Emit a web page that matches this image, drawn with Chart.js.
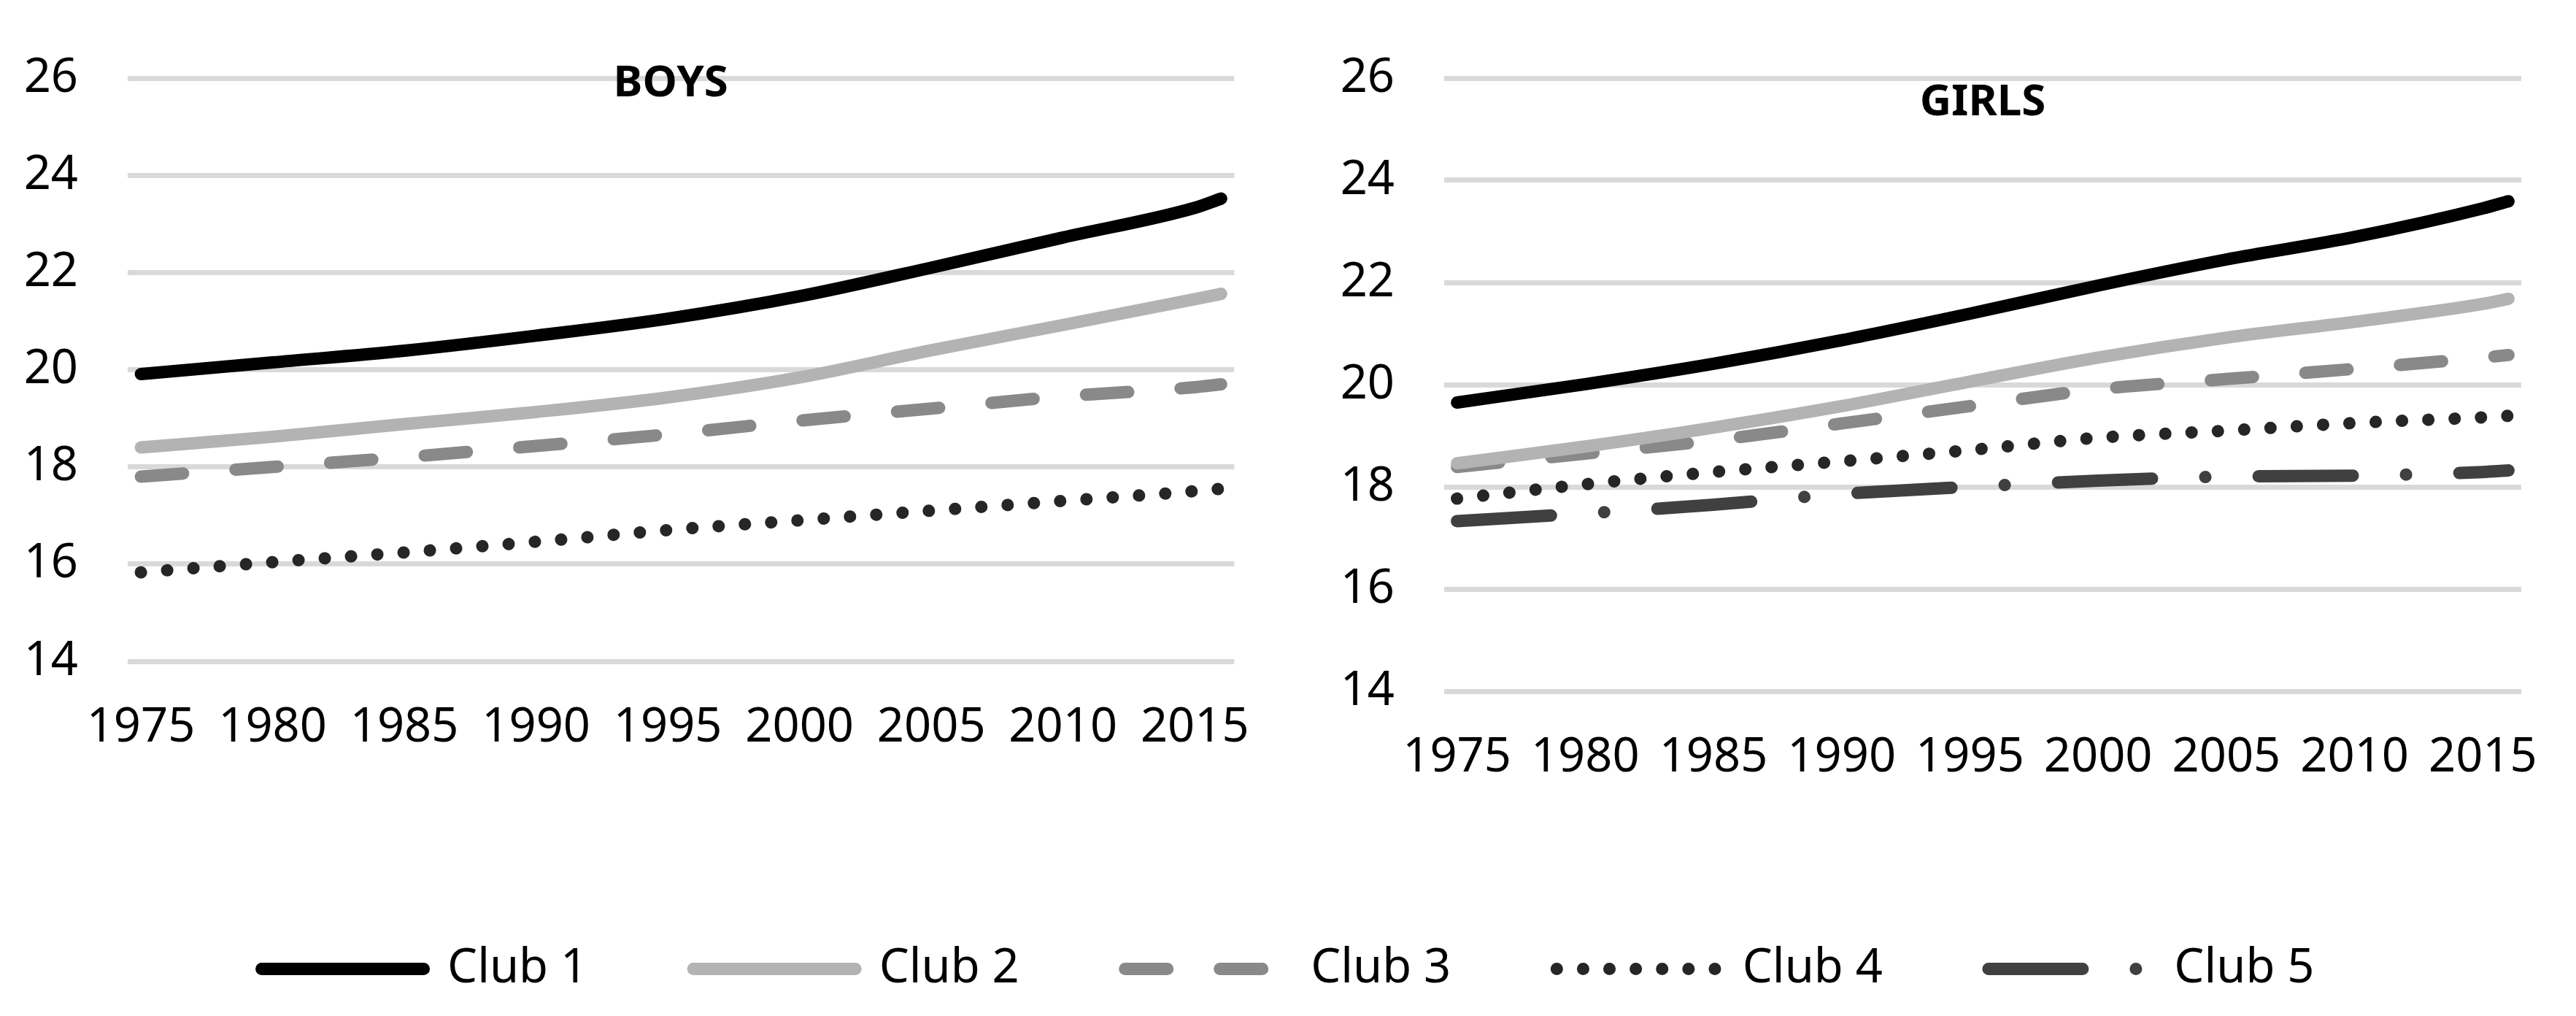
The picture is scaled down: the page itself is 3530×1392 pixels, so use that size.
<!DOCTYPE html>
<html>
<head>
<meta charset="utf-8">
<script src="https://cdn.jsdelivr.net/npm/chart.js@4.4.1/dist/chart.umd.min.js"></script>
<style>
  html, body { margin: 0; padding: 0; background: #fff; }
  body { width: 3530px; height: 1392px; position: relative; overflow: hidden; }
  canvas { position: absolute; }
</style>
</head>
<body>
<canvas id="boys" width="1765" height="1150" style="left:0;top:0"></canvas>
<canvas id="girls" width="1765" height="1150" style="left:1765px;top:0"></canvas>
<canvas id="legend" width="3530" height="760" style="left:0;top:1150px"></canvas>
<script>
// values at these years
const years = [1975, 1980, 1985, 1990, 1995, 2000, 2005, 2010, 2015, 2016];
const yearTicks = [1975, 1980, 1985, 1990, 1995, 2000, 2005, 2010, 2015];
const yTicks = [14, 16, 18, 20, 22, 24, 26];
const clubNames = ['Club 1', 'Club 2', 'Club 3', 'Club 4', 'Club 5'];

const boysClub1 = [19.91, 20.15, 20.39, 20.70, 21.05, 21.51, 22.10, 22.72, 23.33, 23.52];
const boysClub2 = [18.40, 18.62, 18.88, 19.13, 19.43, 19.84, 20.40, 20.92, 21.45, 21.56];
const boysClub3 = [17.80, 18.00, 18.20, 18.43, 18.67, 18.95, 19.20, 19.45, 19.64, 19.70];
const boysClub4 = [15.83, 16.04, 16.24, 16.46, 16.70, 16.90, 17.10, 17.30, 17.50, 17.55];

const girlsClub1 = [19.65, 20.01, 20.41, 20.87, 21.39, 21.94, 22.45, 22.89, 23.45, 23.59];
const girlsClub2 = [18.46, 18.79, 19.16, 19.58, 20.06, 20.53, 20.92, 21.23, 21.58, 21.68];
const girlsClub3 = [18.39, 18.65, 18.91, 19.24, 19.58, 19.91, 20.11, 20.31, 20.53, 20.58];
const girlsClub4 = [17.77, 18.05, 18.29, 18.50, 18.72, 18.96, 19.10, 19.25, 19.36, 19.39];
const girlsClub5 = [17.33, 17.48, 17.65, 17.86, 18.00, 18.12, 18.20, 18.22, 18.29, 18.32];

const clubColors = ['#000000', '#b3b3b3', '#898989', '#262626', '#404040'];
const clubDashes = [[], [], [58, 72], [0.1, 36], [129, 73, 0.1, 73]];

Chart.defaults.font.family = '"Noto Sans", sans-serif';
Chart.defaults.color = '#000';
const tickFont = { size: 65 };

function series(i, values) {
    return {
        label: clubNames[i],
        data: values ? years.map((x, k) => ({ x: x, y: values[k] })) : [],
        borderColor: clubColors[i],
        backgroundColor: clubColors[i],
        borderWidth: 17,
        borderDash: clubDashes[i],
        borderCapStyle: 'round',
        borderJoinStyle: 'round',
        pointRadius: 0,
        cubicInterpolationMode: 'monotone',
        fill: false
    };
}

const panelTitle = {
    id: 'panelTitle',
    afterDraw(chart, args, opts) {
        const { ctx, chartArea } = chart;
        ctx.save();
        ctx.font = 'bold 60px "Noto Sans"';
        ctx.fillStyle = '#000';
        ctx.textAlign = 'center';
        ctx.textBaseline = 'alphabetic';
        ctx.fillText(opts.text, (chartArea.left + chartArea.right) / 2 + opts.dx, opts.baseline);
        ctx.restore();
    }
};

function panelOptions(p) {
    return {
        responsive: false,
        animation: false,
        devicePixelRatio: 1,
        layout: { padding: { left: 0, right: p.padRight, top: p.top, bottom: p.padBottom } },
        plugins: {
            legend: { display: false },
            tooltip: { enabled: false },
            panelTitle: { text: p.title, dx: p.titleDx, baseline: p.titleBaseline }
        },
        scales: {
            x: {
                type: 'linear',
                min: 1974.5,
                max: 2016.5,
                afterBuildTicks: s => { s.ticks = yearTicks.map(v => ({ value: v })); },
                afterFit: s => { s.height = 150; },
                grid: { display: false, drawTicks: false },
                border: { display: false },
                ticks: { font: tickFont, padding: 52, maxRotation: 0, autoSkip: false, callback: v => String(v) }
            },
            y: {
                min: 14,
                max: 26,
                afterBuildTicks: s => { s.ticks = yTicks.map(v => ({ value: v })); },
                afterFit: s => { s.width = p.yWidth; },
                grid: { color: '#d9d9d9', lineWidth: 7, drawTicks: false },
                border: { display: false },
                ticks: { font: tickFont, padding: 68 }
            }
        }
    };
}

new Chart(document.getElementById('boys'), {
    type: 'line',
    data: {
        datasets: [series(0, boysClub1), series(1, boysClub2), series(2, boysClub3), series(3, boysClub4)]
    },
    options: panelOptions({ title: 'BOYS', titleDx: -14, titleBaseline: 132, yWidth: 175, padRight: 39, top: 75, padBottom: 94 }),
    plugins: [panelTitle]
});

new Chart(document.getElementById('girls'), {
    type: 'line',
    data: {
        datasets: [series(0, girlsClub1), series(1, girlsClub2), series(2, girlsClub3), series(3, girlsClub4), series(4, girlsClub5)]
    },
    options: panelOptions({ title: 'GIRLS', titleDx: 0, titleBaseline: 158, yWidth: 214, padRight: 37, top: 65, padBottom: 53 }),
    plugins: [panelTitle]
});

// shared legend below both panels
new Chart(document.getElementById('legend'), {
    type: 'line',
    data: { datasets: clubNames.map((n, i) => series(i, null)) },
    options: {
        responsive: false,
        animation: false,
        devicePixelRatio: 1,
        scales: { x: { display: false }, y: { display: false } },
        plugins: {
            tooltip: { enabled: false },
            legend: {
                position: 'top',
                labels: {
                    usePointStyle: true,
                    pointStyle: 'line',
                    pointStyleWidth: 222,
                    font: { size: 65 },
                    color: '#000',
                    padding: 145,
                    generateLabels: chart => chart.data.datasets.map((ds, i) => ({
                        text: ds.label,
                        strokeStyle: ds.borderColor,
                        fillStyle: ds.borderColor,
                        lineWidth: ds.borderWidth,
                        lineDash: ds.borderDash,
                        lineCap: 'round',
                        pointStyle: 'line',
                        hidden: false,
                        datasetIndex: i
                    }))
                }
            }
        }
    }
});
</script>
</body>
</html>
